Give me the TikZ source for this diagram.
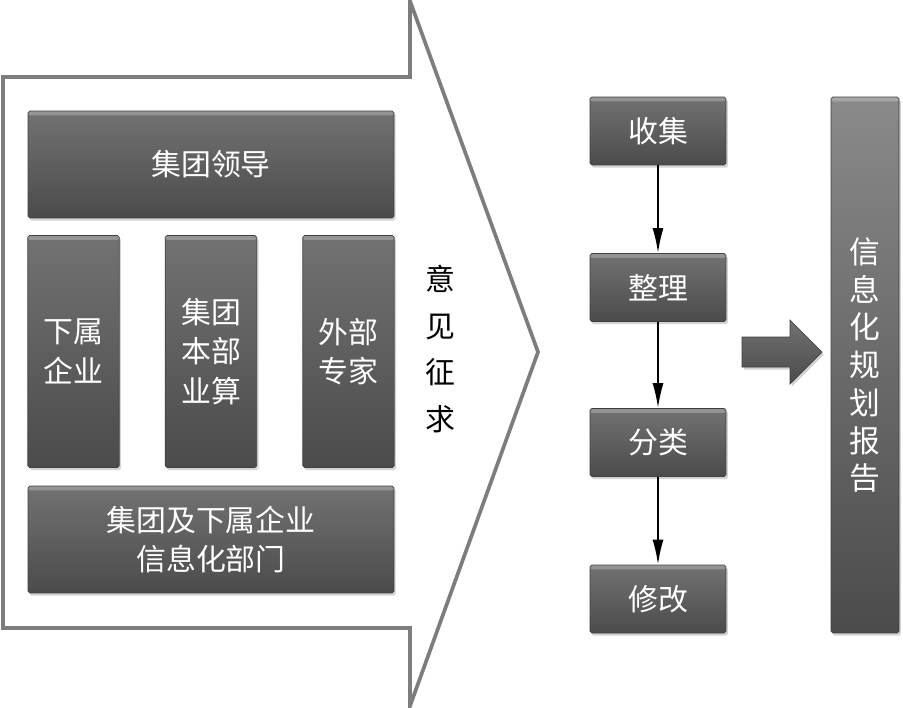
\documentclass[tikz,border=0pt]{standalone}
\usepackage{fontspec}
\newfontfamily\cjk{Noto Sans CJK SC}
\usetikzlibrary{arrows.meta, positioning, shadows}
\definecolor{grisOscuro}{HTML}{4B4B4B}
\definecolor{grisMedio}{HTML}{727272}
\definecolor{grisClaro}{HTML}{8A8A8A}
\definecolor{grisLinea}{HTML}{7D7D7D}
\colorlet{colTexto}{white}
\colorlet{colFlecha}{black}
\tikzset{
  cajaBase/.style={
    draw=grisOscuro!85!black, thin, rounded corners=1pt,
    top color=grisMedio, bottom color=grisOscuro,
    align=center, text=colTexto, inner sep=0pt,
    font=\cjk\fontsize{17}{22.5}\selectfont,
    path picture={\fill[white, opacity=0.25]
      (path picture bounding box.north west) rectangle
      ([yshift=-2.5pt]path picture bounding box.north east);},
    drop shadow={opacity=0.35, shadow xshift=1pt, shadow yshift=-1.5pt}
  },
  cajaAncha/.style={cajaBase, minimum width=7.32cm, minimum height=2.14cm},
  cajaColumna/.style={cajaBase, minimum width=1.83cm, minimum height=4.64cm},
  cajaPaso/.style={cajaBase, minimum width=2.72cm, minimum height=1.36cm},
  cajaInforme/.style={cajaBase, top color=grisClaro, bottom color=grisOscuro,
    minimum width=1.36cm, minimum height=10.72cm,
    font=\cjk\fontsize{17.5}{21.5}\selectfont},
  contorno/.style={draw=grisLinea, line width=2.1pt, line join=miter},
  flecha/.style={-{Latex[length=0.5cm, width=0.22cm]}, line width=1.1pt, colFlecha},
  flechaGruesa/.style={top color=grisMedio, bottom color=grisOscuro,
    draw=grisOscuro!85!black, thin,
    drop shadow={opacity=0.35, shadow xshift=1pt, shadow yshift=-1.5pt}},
  etiquetaVertical/.style={align=center, text=black,
    font=\cjk\fontsize{17}{26.6}\selectfont},
}

\begin{document}
\begin{tikzpicture}[x=0.02cm, y=-0.02cm]
    \useasboundingbox (0,0) rectangle (903,707);

    % flecha grande de consulta
    \draw[contorno] (3,77) -- (410,77) -- (410,1) -- (538,352) -- (410,706)
      -- (410,628) -- (3,628) -- cycle;

    \node[cajaAncha] (lider) at (211,164.5) {集团领导};
    \node[cajaColumna] (subordinadas) at (73.5,351.5) {下属\\企业};
    \node[cajaColumna] (sede) at (211,351.5) {集团\\本部\\业算};
    \node[cajaColumna] (expertos) at (348.5,351.5) {外部\\专家};
    \node[cajaAncha] (deptoTI) at (211,539.5) {集团及下属企业\\信息化部门};
    \node[etiquetaVertical] (consulta) at (440,349) {意\\见\\征\\求};

    % pasos
    \node[cajaPaso] (recoleccion) at (658,131) {收集};
    \node[cajaPaso] (organizacion) at (658,287.5) {整理};
    \node[cajaPaso] (clasificacion) at (658,442.5) {分类};
    \node[cajaPaso] (revision) at (658,599) {修改};
    \node[cajaInforme] (informe) at (865,365) {信\\息\\化\\规\\划\\报\\告};

    \draw[flecha] (recoleccion) -- (organizacion);
    \draw[flecha] (organizacion) -- (clasificacion);
    \draw[flecha] (clasificacion) -- (revision);

    \path[flechaGruesa] (742,337) -- (790,337) -- (790,320) -- (822,352)
      -- (790,384) -- (790,367) -- (742,367) -- cycle;
  \end{tikzpicture}
\end{document}
